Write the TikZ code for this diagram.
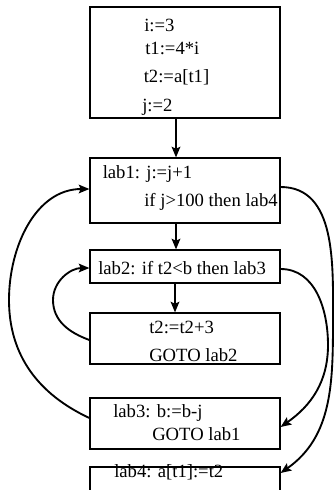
\documentclass[tikz,border=0pt]{standalone}
\usepackage{fontspec}
\setmainfont{Liberation Serif}
\usetikzlibrary{arrows.meta,fit}
\begin{document}
\begin{tikzpicture}[x=0.75pt,y=-0.75pt,
  box/.style={draw,line width=0.9pt,inner sep=0pt},
  txt/.style={anchor=base west,inner sep=0pt,font=\fontsize{14}{16}\selectfont},
  arr/.style={line width=1.4pt,-{Stealth[length=8pt,width=6.5pt,inset=1.5pt]}}]
\useasboundingbox (0,0) rectangle (335,490);
\clip (0,0) rectangle (335,490);
% boxes
\node[box,fit={(90,7) (280,118)}] (b1) {};
\node[box,fit={(90,158) (280,223)}] (b2) {};
\node[box,fit={(90,250) (280,283)}] (b3) {};
\node[box,fit={(90,313) (280,364)}] (b4) {};
\node[box,fit={(90,398) (280,449)}] (b5) {};
\node[box,fit={(90,467) (280,520)}] (b6) {};
% texts
\node[txt] (t11) at (144,31) {i:=3};
\node[txt] (t12) at (145,54) {t1:=4*i};
\node[txt] (t13) at (143.5,82.5) {t2:=a[t1]};
\node[txt] (t14) at (142,111) {j:=2};
\node[txt] (t21) at (102.5,178) {lab1: j:=j+1};
\node[txt] (t22) at (144,206) {if j>100 then lab4};
\node[txt] (t31) at (98,274) {lab2: if t2<b then lab3};
\node[txt] (t41) at (149,333) {t2:=t2+3};
\node[txt] (t42) at (149,361) {GOTO lab2};
\node[txt] (t51) at (113,417) {lab3: b:=b-j};
\node[txt] (t52) at (152,440) {GOTO lab1};
\node[txt] (t61) at (114,477) {lab4: a[t1]:=t2};
% straight arrows
\draw[arr] (b1.south -| 176,0) -- (b2.north -| 176,0);
\draw[arr] (b2.south -| 176,0) -- (b3.north -| 176,0);
\draw[arr] (b3.south -| 175,0) -- (b4.north -| 175,0);
% right curves
\coordinate (r1) at (333,320);
\draw[arr] (b2.east |- 0,187) to[out=0,in=90] (r1) to[out=-90,in=35] (b6.east |- 0,473);
\coordinate (r2) at (328,345);
\draw[arr] (b3.east |- 0,269) to[out=0,in=90] (r2) to[out=-90,in=35] (b5.east |- 0,427);
% left curves
\coordinate (l1) at (9,300);
\draw[arr] (b5.west |- 0,418) to[out=155,in=-90] (l1) to[out=90,in=180] (b2.west |- 0,189);
\coordinate (l2) at (53,300);
\draw[arr] (b4.west |- 0,340) to[out=160,in=-90] (l2) to[out=90,in=180] (b3.west |- 0,268);
\end{tikzpicture}
\end{document}
